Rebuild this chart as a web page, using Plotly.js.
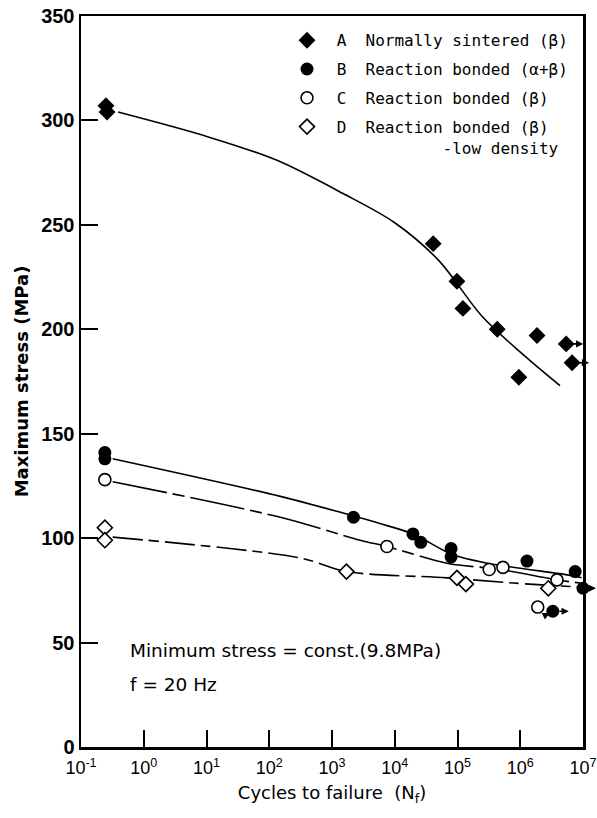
<!DOCTYPE html>
<html>
<head>
<meta charset="utf-8">
<script src="https://cdn.plot.ly/plotly-3.0.1.min.js"></script>
<style>html,body{margin:0;padding:0;background:#fff;}#chart{width:597px;height:818px;}</style>
</head>
<body>
<div id="chart"></div>
<script>
// ---- data (cycles to failure, maximum stress in MPa) ----
const seriesNames = [
  "\u00a0A\u00a0\u00a0Normally sintered (\u03b2)",
  "\u00a0B\u00a0\u00a0Reaction bonded (\u03b1+\u03b2)",
  "\u00a0C\u00a0\u00a0Reaction bonded (\u03b2)",
  "\u00a0D\u00a0\u00a0Reaction bonded (\u03b2)<br>\u00a0" + "\u00a0".repeat(11) + "-low density"
];

const A_x = [0.25, 0.26, 4.1e4, 9.8e4, 1.22e5, 4.3e5, 1.85e6, 9.5e5, 5.4e6, 6.7e6];
const A_y = [307, 304, 241, 223, 210, 200, 197, 177, 193, 184];
const B_x = [0.24, 0.24, 2.2e3, 1.95e4, 2.6e4, 7.9e4, 7.9e4, 1.28e6, 7.5e6, 1.0e7, 3.3e6];
const B_y = [141, 138, 110, 102, 98, 95, 91, 89, 84, 76, 65];
const C_x = [0.24, 7.5e3, 3.2e5, 5.3e5, 3.85e6, 1.9e6];
const C_y = [128, 96, 85, 86, 80, 67];
const D_x = [0.24, 0.24, 1.7e3, 9.8e4, 1.36e5, 2.8e6];
const D_y = [105, 99, 84, 81, 78, 76];

// run-out points (index into each series): drawn with a small arrow to the right
const A_runout = [8, 9];
const B_runout = [9, 10];
const C_runout = [5];

// fitted curves drawn by hand in the original
const A_fit_x = [0.39, 11, 130, 1500, 1e4, 5e4, 2.5e5, 1.2e6, 4.3e6];
const A_fit_y = [304, 292, 281, 265, 251, 233, 206, 187, 173];
const B_fit_x = [0.32, 150, 1500, 5800, 1.95e4, 8.5e4, 3e5, 6.9e6, 9.5e6];
const B_fit_y = [138, 120, 112, 107, 102, 92, 88, 82, 81];
const C_fit_x = [0.32, 150, 2800, 7.5e3, 6.8e4, 4.8e5, 3.85e6, 9e6];
const C_fit_y = [127, 110, 99, 96, 88, 85, 80, 78.5];
const D_fit_x = [0.32, 310, 1700, 6.8e4, 7.7e5, 9e6];
const D_fit_y = [100.5, 90.5, 84, 81, 78.5, 76.6];

const xTickVals = [1e-1, 1e0, 1e1, 1e2, 1e3, 1e4, 1e5, 1e6, 1e7];
const xTickText = ["10<sup>-1</sup>", "10<sup>0</sup>", "10<sup>1</sup>", "10<sup>2</sup>", "10<sup>3</sup>",
                   "10<sup>4</sup>", "10<sup>5</sup>", "10<sup>6</sup>", "10<sup>7</sup>"];

const xTitle = "Cycles to failure\u00a0\u00a0(N<sub>f</sub>)";
const yTitle = "Maximum stress (MPa)";
const note1 = "Minimum stress = const.(9.8MPa)";
const note2 = "f = 20 Hz";

// ---- layout geometry ----
const W = 597, H = 818;
const M = {l: 81, r: 14, t: 16, b: 71, pad: 0};
const xRange = [-1, 7];
const yRange = [0, 350];
const plotW = W - M.l - M.r, plotH = H - M.t - M.b;
const pxPerDecade = plotW / (xRange[1] - xRange[0]);

function fitTrace(x, y, dash) {
  return {x: x, y: y, type: 'scatter', mode: 'lines', showlegend: false,
          hoverinfo: 'skip', line: {color: 'black', width: 1.6, shape: 'spline', smoothing: 0.9, dash: dash}};
}
function pointTrace(x, y, name, symbol, size, fill, group) {
  return {x: x, y: y, type: 'scatter', mode: 'markers', name: name, legendgroup: group,
          cliponaxis: false,
          marker: {symbol: symbol, size: size, color: fill, line: {color: 'black', width: fill === 'white' ? 1.6 : 0}}};
}

const traces = [
  fitTrace(A_fit_x, A_fit_y, 'solid'),
  fitTrace(B_fit_x, B_fit_y, 'solid'),
  fitTrace(C_fit_x, C_fit_y, '55px,6px,12px,6px'),
  fitTrace(D_fit_x, D_fit_y, '30px,6px,10px,6px'),
  pointTrace(A_x, A_y, seriesNames[0], 'diamond', 13, 'black', 'a'),
  pointTrace(B_x, B_y, seriesNames[1], 'circle', 13, 'black', 'b'),
  pointTrace(C_x, C_y, seriesNames[2], 'circle', 12, 'white', 'c'),
  pointTrace(D_x, D_y, seriesNames[3], 'diamond', 11.5, 'white', 'd')
];

// run-out arrows built from the data points (paper refs so they may pass the axis edge)
const annotations = [];
function runout(xs, ys, idx, lenPx, dyPx) {
  idx.forEach(i => {
    const px = (Math.log10(xs[i]) - xRange[0]) * pxPerDecade + lenPx;
    const py = (ys[i] - yRange[0]) / (yRange[1] - yRange[0]) * plotH + dyPx;
    annotations.push({
      x: px / plotW, y: py / plotH, xref: 'paper', yref: 'paper',
      ax: -lenPx, ay: -dyPx, axref: 'pixel', ayref: 'pixel', text: '', showarrow: true,
      arrowhead: 2, arrowsize: 0.9, arrowwidth: 1.6, arrowcolor: 'black', startstandoff: 5
    });
  });
}
runout(A_x, A_y, A_runout, 17, 0);
runout(B_x, B_y, B_runout, 16, 0);
runout(C_x, C_y, C_runout, 12, -6);

annotations.push({xref: 'paper', yref: 'paper', x: (128 - M.l) / plotW, y: (747 - 650) / plotH,
  xanchor: 'left', yanchor: 'middle', text: note1, showarrow: false,
  font: {family: 'DejaVu Sans', size: 18.5, color: 'black'}});
annotations.push({xref: 'paper', yref: 'paper', x: (128 - M.l) / plotW, y: (747 - 684) / plotH,
  xanchor: 'left', yanchor: 'middle', text: note2, showarrow: false,
  font: {family: 'DejaVu Sans', size: 18.5, color: 'black'}});

const layout = {
  width: W, height: H, margin: M,
  paper_bgcolor: 'white', plot_bgcolor: 'white',
  showlegend: true,
  legend: {x: (287 - M.l) / plotW, xanchor: 'left', y: 0.99, yanchor: 'top',
           bgcolor: 'rgba(0,0,0,0)', borderwidth: 0, tracegroupgap: 5, valign: 'top',
           font: {family: 'DejaVu Sans Mono', size: 16, color: 'black'}},
  xaxis: {type: 'log', range: xRange, tickmode: 'array', tickvals: xTickVals, ticktext: xTickText,
          ticks: 'inside', ticklen: 17, tickwidth: 2, tickcolor: 'black', ticklabelstandoff: 3,
          showline: true, linewidth: 2.5, linecolor: 'black', mirror: true,
          showgrid: false, zeroline: false,
          tickfont: {family: 'Liberation Sans', size: 18, color: 'black'},
          title: {text: xTitle, font: {family: 'DejaVu Sans', size: 18, color: 'black'}, standoff: 10}},
  yaxis: {range: yRange, dtick: 50, ticks: 'inside', ticklen: 17, tickwidth: 2, tickcolor: 'black',
          showline: true, linewidth: 2.5, linecolor: 'black', mirror: true,
          showgrid: false, zeroline: false,
          tickfont: {family: 'Liberation Sans', size: 20, color: 'black', weight: 'bold'},
          title: {text: yTitle, font: {family: 'DejaVu Sans', size: 18, color: 'black', weight: 'bold'}, standoff: 8}},
  annotations: annotations
};

Plotly.newPlot('chart', traces, layout, {staticPlot: true, displayModeBar: false});
</script>
</body>
</html>
